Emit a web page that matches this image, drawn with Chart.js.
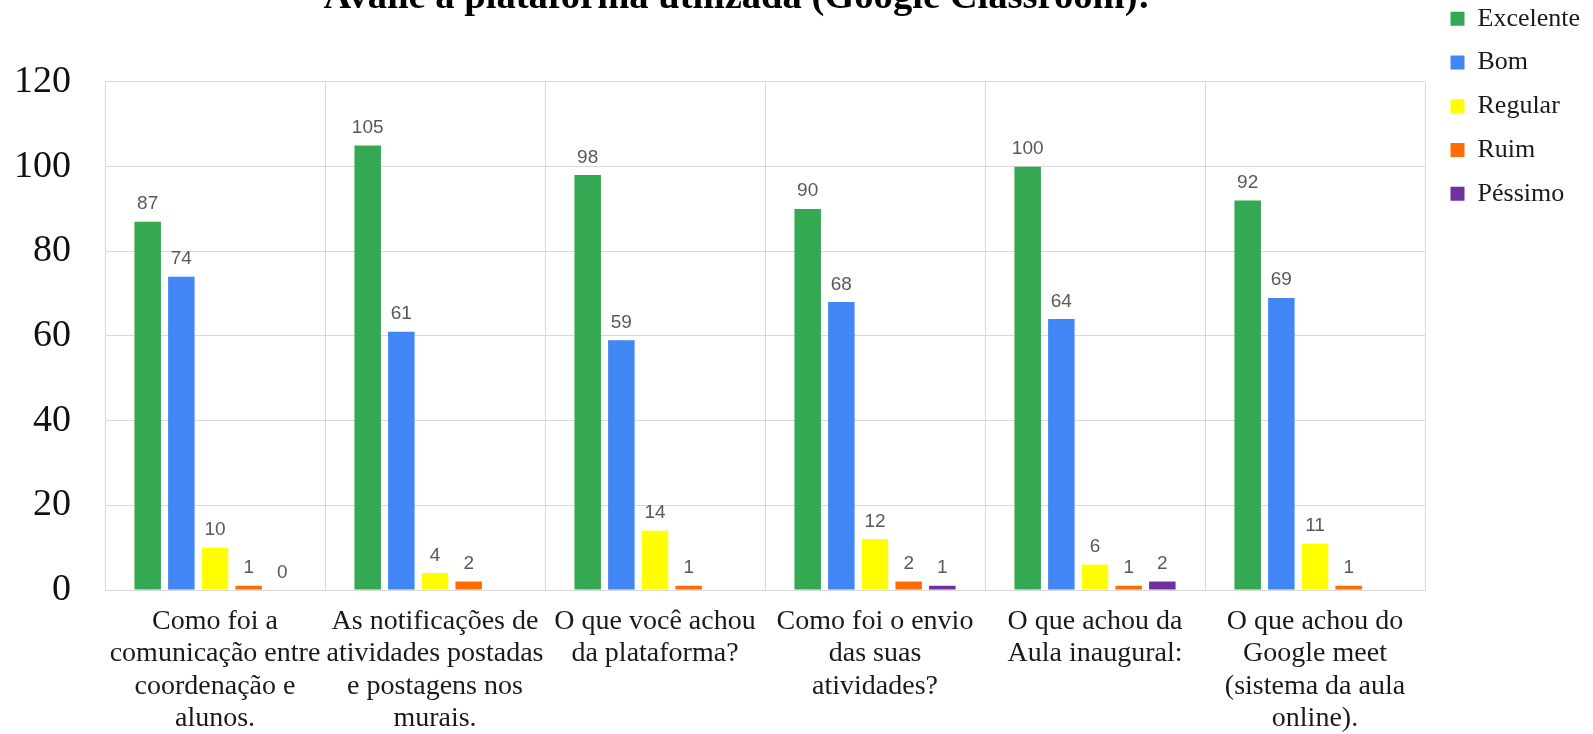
<!DOCTYPE html>
<html>
<head>
<meta charset="utf-8">
<script src="https://cdn.jsdelivr.net/npm/chart.js@4.4.1/dist/chart.umd.min.js"></script>
<style>
  html, body { margin: 0; padding: 0; background: #ffffff; overflow: hidden; width: 1593px; height: 734px; }
  #wrap { position: absolute; left: -116px; top: -12px; width: 1709px; height: 746px; }
</style>
</head>
<body>
<div id="wrap"><canvas id="chart"></canvas></div>
<script>
// ---- data ----
const categories = [
  ["Como foi a", "comunicação entre", "coordenação e", "alunos."],
  ["As notificações de", "atividades postadas", "e postagens nos", "murais."],
  ["O que você achou", "da plataforma?"],
  ["Como foi o envio", "das suas", "atividades?"],
  ["O que achou da", "Aula inaugural:"],
  ["O que achou do", "Google meet", "(sistema da aula", "online)."]
];
const seriesNames = ["Excelente", "Bom", "Regular", "Ruim", "Péssimo"];
const excelente = [87, 105, 98, 90, 100, 92];
const bom       = [74, 61, 59, 68, 64, 69];
const regular   = [10, 4, 14, 12, 6, 11];
const ruim      = [1, 2, 1, 2, 1, 1];
const pessimo   = [0, null, null, 1, 2, null];
const yTicks    = [0, 20, 40, 60, 80, 100, 120];
const titleText = "Avalie a plataforma utilizada (Google Classroom):";

const colors = ["#34a853", "#4285f4", "#ffff00", "#ff6d01", "#7030a0"];
const seriesValues = [excelente, bom, regular, ruim, pessimo];

const valueLabels = {
  id: 'valueLabels',
  afterDatasetsDraw(chart) {
    const ctx = chart.ctx;
    ctx.save();
    ctx.font = '19px "Liberation Sans", Arial, sans-serif';
    ctx.fillStyle = '#595959';
    ctx.textAlign = 'center';
    ctx.textBaseline = 'alphabetic';
    chart.data.datasets.forEach((ds, di) => {
      const meta = chart.getDatasetMeta(di);
      meta.data.forEach((el, i) => {
        const v = ds.data[i];
        if (v === null || v === undefined) return;
        ctx.fillText(String(v), el.x, el.y - 12.5);
      });
    });
    ctx.restore();
  }
};

const gridColor = '#d9d9d9';

new Chart(document.getElementById('chart'), {
  type: 'bar',
  data: {
    labels: categories,
    datasets: seriesNames.map((name, k) => ({
      label: name,
      data: seriesValues[k],
      backgroundColor: colors[k],
      borderWidth: 0,
      yAxisID: 'y',
      categoryPercentage: 0.765,
      barPercentage: 0.787
    }))
  },
  options: {
    responsive: true,
    maintainAspectRatio: false,
    animation: false,
    devicePixelRatio: 1,
    layout: { padding: { left: 0, right: 3, top: 0, bottom: 0 } },
    plugins: {
      tooltip: { enabled: false },
      title: {
        display: true,
        text: titleText,
        color: '#000000',
        font: { family: '"Liberation Serif", "Times New Roman", serif', size: 38.6, weight: 'bold', lineHeight: 0.17 },
        padding: { top: 7, bottom: 80.4 }
      },
      legend: {
        display: true,
        position: 'right',
        align: 'start',
        labels: {
          boxWidth: 14,
          boxHeight: 14,
          padding: 17.75,
          color: '#1a1a1a',
          font: { family: '"Liberation Serif", "Times New Roman", serif', size: 26 }
        }
      }
    },
    scales: {
      x: {
        type: 'category',
        offset: true,
        grid: { display: true, color: gridColor, lineWidth: 1, offset: true, drawTicks: false },
        border: { display: true, color: gridColor },
        ticks: {
          color: '#1a1a1a',
          font: { family: '"Liberation Serif", "Times New Roman", serif', size: 28, lineHeight: 1.16 },
          padding: 15,
          maxRotation: 0,
          minRotation: 0,
          autoSkip: false
        },
        afterFit(s) { s.height = 144; }
      },
      y: {
        type: 'linear',
        position: 'left',
        min: yTicks[0],
        max: yTicks[yTicks.length - 1],
        afterBuildTicks(s) { s.ticks = yTicks.map(v => ({ value: v })); },
        grid: { display: true, color: gridColor, lineWidth: 1, drawTicks: false },
        border: { display: true, color: gridColor },
        ticks: {
          color: '#111111',
          font: { family: '"Liberation Serif", "Times New Roman", serif', size: 38 },
          padding: 34
        },
        afterFit(s) { s.width = 221; }
      },
      yR: {
        type: 'linear',
        position: 'right',
        display: true,
        grid: { display: false, drawTicks: false },
        border: { display: false },
        ticks: { display: false },
        afterFit(s) {
          const lw = (s.chart.legend && s.chart.legend.width) ? s.chart.legend.width : 157;
          s.width = Math.max(0, 165 - lw);
        }
      }
    }
  },
  plugins: [valueLabels]
});
</script>
</body>
</html>
